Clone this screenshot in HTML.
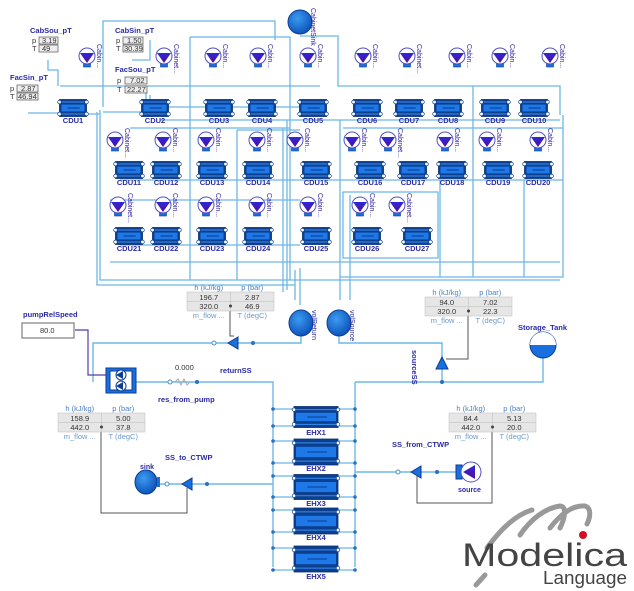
<!DOCTYPE html>
<html><head><meta charset="utf-8"><style>
html,body{margin:0;padding:0;background:#fff;}
svg{display:block;font-family:"Liberation Sans",sans-serif;}
</style></head><body>
<svg id="s" width="634" height="591" viewBox="0 0 634 591" xmlns="http://www.w3.org/2000/svg">
<defs>
<linearGradient id="tri" x1="0" y1="0" x2="0" y2="1"><stop offset="0" stop-color="#2a2ad8"/><stop offset="1" stop-color="#5a0a9a"/></linearGradient>
<radialGradient id="ball" cx="0.4" cy="0.35" r="0.7"><stop offset="0" stop-color="#3c9bf0"/><stop offset="1" stop-color="#0a4fb8"/></radialGradient>
</defs>
<g id="wires" fill="none" stroke="#6cb8e6" stroke-width="1.3">
<!-- top grid wires -->
<path d="M103 107 V21 H275 V40"/>
<path d="M190 37 H290 V280"/>
<path d="M60 86 H320"/>
<path d="M100 110 V280 H560"/>
<path d="M97 112 V285 H295"/>
<path d="M190 37 V280"/>
<path d="M237 130 H300 M237 130 V280"/>
<path d="M287 120 V290"/>
<path d="M283 128 V292"/>
<path d="M300 36 H338 V86 H560 V115"/>
<path d="M563 115 V277 H340"/>
<path d="M473 86 V277"/>
<path d="M524 180 V277"/>
<path d="M440 180 V277"/>
<path d="M343 192 H438 V258 H343 Z"/>
<path d="M343 128 H563"/>
<path d="M340 120 V300"/>
<path d="M295 270 V300 M300 268 V305"/>
<path d="M130 128 H290"/>
<path d="M120 180 H563"/>
<path d="M120 245 H300"/>
<path d="M60 114 H100"/>
<path d="M48 60 V70 H58 V86"/>
<path d="M132 60 H150 V40"/>
<path d="M28 113 H60"/>
<path d="M146 90 V112 H103"/>
<path d="M150 95 V107 H300"/>
<path d="M160 120 H560"/>
<path d="M110 200 H300"/>
<path d="M110 262 H560"/>
<path d="M350 195 V300"/>
</g>
<g id="comp"></g>
<!-- sensors -->
<g font-size="7.5" font-weight="bold" fill="#2a2aa8">
<text x="30" y="33">CabSou_pT</text><text x="115" y="33">CabSin_pT</text>
<text x="10" y="80">FacSin_pT</text><text x="115" y="72">FacSou_pT</text>
</g>
<g font-size="7.5" fill="#333">
<text x="32" y="43">p</text><text x="32" y="51">T</text>
<rect x="39" y="37" width="19" height="7" fill="#eee" stroke="#555" stroke-width=".7"/><text x="42" y="43">3.19</text>
<rect x="39" y="45" width="19" height="7" fill="#eee" stroke="#555" stroke-width=".7"/><text x="42" y="51">49</text>
<text x="116" y="43">p</text><text x="116" y="51">T</text>
<rect x="123" y="37" width="20" height="7" fill="#eee" stroke="#555" stroke-width=".7"/><text x="127" y="43">1.50</text>
<rect x="123" y="45" width="20" height="7" fill="#eee" stroke="#555" stroke-width=".7"/><text x="124" y="51">30.39</text>
<text x="10" y="91">p</text><text x="10" y="99">T</text>
<rect x="17" y="85" width="21" height="7" fill="#eee" stroke="#555" stroke-width=".7"/><text x="21" y="91">2.87</text>
<rect x="17" y="93" width="21" height="7" fill="#eee" stroke="#555" stroke-width=".7"/><text x="18" y="99">46.94</text>
<text x="117" y="83">p</text><text x="117" y="92">T</text>
<rect x="125" y="77" width="22" height="7" fill="#eee" stroke="#555" stroke-width=".7"/><text x="130" y="83">7.02</text>
<rect x="125" y="86" width="22" height="7" fill="#eee" stroke="#555" stroke-width=".7"/><text x="127" y="92">22.27</text>
</g>
<!-- CabinetSink -->
<circle cx="300" cy="22" r="12" fill="url(#ball)" stroke="#083c90"/>
<text transform="translate(311,8) rotate(90)" font-size="7" fill="#3020a0">CabinetSink</text>

<!-- bottom wires -->
<g fill="none" stroke="#6cb8e6" stroke-width="1.4">
<path d="M93 382 V343 H301 V335"/>
<path d="M339 335 V343 H442 V382"/>
<path d="M136 382 H273 V567"/>
<path d="M355 382 V567"/>
<path d="M355 382 H543 V358"/>
<path d="M160 484 H273"/>
<path d="M355 472 H458"/>
</g>
<g fill="none" stroke="#555" stroke-width="1">
<path d="M230 310 V336 H234"/>
<path d="M468 310 V359 H446"/>
<path d="M101 429 V513 H187 V488"/>
<path d="M492 429 V503 H417 V476"/>
</g>
<path d="M75 330 H88 V375 H106" fill="none" stroke="#5a3aa0" stroke-width="1.2"/>
<g id="ehx"></g>
<!-- tables -->
<g id="tables" font-size="7.5"></g>
<!-- volumes -->
<ellipse cx="301" cy="323" rx="12" ry="13" fill="url(#ball)" stroke="#083c90"/>
<ellipse cx="339" cy="323" rx="12" ry="13" fill="url(#ball)" stroke="#083c90"/>
<text transform="translate(312,310) rotate(90)" font-size="7" fill="#2a2aa8">volReturn</text>
<text transform="translate(350,310) rotate(90)" font-size="7" fill="#2a2aa8">volSource</text>
<!-- pumpRelSpeed -->
<text x="23" y="317" font-size="7.5" font-weight="bold" fill="#2a2aa8">pumpRelSpeed</text>
<rect x="22" y="323" width="52" height="15" fill="#fff" stroke="#666"/>
<text x="40" y="333" font-size="7.5" fill="#333">80.0</text>
<!-- pump -->
<rect x="106" y="368" width="30" height="25" fill="#1a6fe0" stroke="#0a3d91"/>
<rect x="110" y="371" width="22" height="19" fill="#fff" stroke="#0a3d91"/>
<circle cx="121" cy="375" r="5" fill="#fff" stroke="#0a3d91"/><circle cx="121" cy="386" r="5" fill="#fff" stroke="#0a3d91"/>
<path d="M116 375 l7 -4 v8z M116 386 l7 -4 v8z" fill="#0a3d91"/>
<!-- res -->
<path d="M175 382 l3 -3 l3 6 l3 -6 l3 6 l3 -3" stroke="#aaa" fill="none"/>
<circle cx="170" cy="382" r="2" fill="#fff" stroke="#4a90d0"/><circle cx="197" cy="382" r="2" fill="#2a70c0"/>
<text x="175" y="370" font-size="7.5" fill="#333">0.000</text>
<text x="220" y="373" font-size="7.5" font-weight="bold" fill="#2a2aa8">returnSS</text>
<text x="158" y="402" font-size="7.5" font-weight="bold" fill="#2a2aa8">res_from_pump</text>
<!-- return valve -->
<circle cx="214" cy="343" r="2" fill="#fff" stroke="#4a90d0"/><circle cx="253" cy="343" r="2" fill="#2a70c0"/>
<path d="M228 343 l10 -6 v12z" fill="#1a6fe0" stroke="#0a3d91"/>
<!-- source valve -->
<path d="M442 357 l-6 12 h12z" fill="#1a6fe0" stroke="#0a3d91"/>
<circle cx="442" cy="382" r="2" fill="#2a70c0"/>
<text transform="translate(412,350) rotate(90)" font-size="7.5" font-weight="bold" fill="#2a2aa8">sourceSS</text>
<!-- storage tank -->
<circle cx="543" cy="345" r="13" fill="#1a6fe0" stroke="#0a3d91"/>
<path d="M530 345 a13 13 0 0 1 26 0z" fill="#fff"/>
<text x="518" y="330" font-size="7.5" font-weight="bold" fill="#2a2aa8">Storage_Tank</text>
<!-- sink -->
<ellipse cx="146" cy="482" rx="11" ry="12" fill="url(#ball)" stroke="#083c90"/>
<rect x="157" y="477" width="3" height="10" fill="#1a6fe0"/>
<text x="140" y="469" font-size="7" font-weight="bold" fill="#2a2aa8">sink</text>
<text x="165" y="460" font-size="7.5" font-weight="bold" fill="#2a2aa8">SS_to_CTWP</text>
<circle cx="167" cy="484" r="2" fill="#fff" stroke="#4a90d0"/><circle cx="207" cy="484" r="2" fill="#2a70c0"/>
<path d="M182 484 l10 -6 v12z" fill="#1a6fe0" stroke="#0a3d91"/>
<!-- source -->
<text x="392" y="447" font-size="7.5" font-weight="bold" fill="#2a2aa8">SS_from_CTWP</text>
<circle cx="398" cy="472" r="2" fill="#fff" stroke="#4a90d0"/><circle cx="437" cy="472" r="2" fill="#2a70c0"/>
<path d="M411 472 l10 -6 v12z" fill="#1a6fe0" stroke="#0a3d91"/>
<rect x="456" y="465" width="6" height="14" fill="#1a6fe0" stroke="#0a3d91"/>
<circle cx="471" cy="472" r="10" fill="#fff" stroke="#5050c0"/>
<path d="M463 472 l12 -7 v14z" fill="url(#tri)"/>
<text x="458" y="492" font-size="7" font-weight="bold" fill="#2a2aa8">source</text>
<!-- Modelica logo -->
<g fill="none" stroke="#999" stroke-width="5" stroke-linecap="round">
<path d="M487 548 C500 530 515 515 532 510"/>
<path d="M520 535 C530 520 545 508 560 506 C567 506 565 518 560 528"/>
<path d="M550 528 C560 515 572 505 585 506 C592 508 590 518 587 524"/>
<path d="M485 575 L476 585"/>
</g>
<circle cx="583" cy="535" r="4" fill="#d01020"/>
<text x="462" y="566" font-size="32" fill="#444" textLength="165" lengthAdjust="spacingAndGlyphs">Modelica</text>
<text x="543" y="584" font-size="18" fill="#444" textLength="84" lengthAdjust="spacingAndGlyphs">Language</text>
</svg>
<script>
var NS="http://www.w3.org/2000/svg";
function el(p,t,a,txt){var e=document.createElementNS(NS,t);for(var k in a)e.setAttribute(k,a[k]);if(txt)e.textContent=txt;p.appendChild(e);return e;}
var C=document.getElementById('comp');
function hx(g,cx,cy,w,h,label,ly){
 var x=cx-w/2,y=cy-h/2;
 el(g,'rect',{x:x,y:y,width:w,height:h,fill:'#0d3f8f',stroke:'#08306e','stroke-width':.8});
 el(g,'rect',{x:x+2,y:y+h*0.3,width:w-4,height:h*0.4,fill:'#1e78e8'});
 el(g,'line',{x1:x+2,y1:y+h*0.15,x2:x+w-2,y2:y+h*0.15,stroke:'#3a8ef0','stroke-width':1});
 el(g,'line',{x1:x+2,y1:y+h*0.85,x2:x+w-2,y2:y+h*0.85,stroke:'#3a8ef0','stroke-width':1});
 el(g,'line',{x1:x+w*0.3,y1:cy,x2:x+w*0.75,y2:cy,stroke:'#0a2a70','stroke-width':.8});
 [[x,y+h*0.15],[x+w,y+h*0.15],[x,y+h*0.85],[x+w,y+h*0.85]].forEach(function(p){el(g,'circle',{cx:p[0],cy:p[1],r:1.8,fill:'#fff',stroke:'#0a3d91','stroke-width':.7});});
 el(g,'text',{x:cx,y:ly,'font-size':7.5,'font-weight':'bold',fill:'#2a2aa8','text-anchor':'middle'},label);
}
function pump(cx,cy,lab){
 el(C,'rect',{x:cx-3.5,y:cy+6,width:7,height:5,fill:'#1a6fe0',stroke:'#0a3d91','stroke-width':.6});
 el(C,'circle',{cx:cx,cy:cy,r:8,fill:'#fff',stroke:'#5050c0','stroke-width':1});
 el(C,'path',{d:'M'+(cx-7)+' '+(cy-3)+' h14 l-7 10z',fill:'url(#tri)'});
 el(C,'text',{transform:'translate('+(cx+10)+','+(cy-12)+') rotate(90)','font-size':7,fill:'#3020a0'},lab);
}
var r1=[[73,'CDU1'],[155,'CDU2'],[219,'CDU3'],[262,'CDU4'],[313,'CDU5'],[367,'CDU6'],[409,'CDU7'],[448,'CDU8'],[495,'CDU9'],[534,'CDU10']];
var r2=[[129,'CDU11'],[166,'CDU12'],[212,'CDU13'],[258,'CDU14'],[316,'CDU15'],[370,'CDU16'],[413,'CDU17'],[452,'CDU18'],[498,'CDU19'],[538,'CDU20']];
var r3=[[129,'CDU21'],[166,'CDU22'],[212,'CDU23'],[258,'CDU24'],[316,'CDU25'],[367,'CDU26'],[417,'CDU27']];
r1.forEach(function(c){hx(C,c[0],108,27,17,c[1],123);});
r2.forEach(function(c){hx(C,c[0],170,27,17,c[1],185);});
r3.forEach(function(c){hx(C,c[0],236,27,17,c[1],251);});
[[87,'Cabin...'],[164,'Cabinet...'],[213,'Cabin...'],[258,'Cabin...'],[308,'Cabin...'],[363,'Cabin...'],[407,'Cabinet...'],[457,'Cabin...'],[500,'Cabin...'],[550,'Cabin...']].forEach(function(p){pump(p[0],56,p[1]);});
[[115,'Cabinet...'],[163,'Cabin...'],[206,'Cabin...'],[257,'Cabin...'],[295,'Cabin...'],[352,'Cabin...'],[388,'Cabinet...'],[445,'Cabin...'],[487,'Cabin...'],[538,'Cabin...']].forEach(function(p){pump(p[0],140,p[1]);});
[[118,'Cabinet...'],[163,'Cabin...'],[206,'Cabin...'],[257,'Cabin...'],[308,'Cabin...'],[360,'Cabin...'],[397,'Cabinet...']].forEach(function(p){pump(p[0],205,p[1]);});
// EHX
var E=document.getElementById('ehx');
[[417,409,426,435,'EHX1'],[452,441,463,471,'EHX2'],[487,476,497,506,'EHX3'],[521,510,532,540,'EHX4'],[559,548,570,579,'EHX5']].forEach(function(e){
 el(E,'path',{d:'M273 '+e[1]+' H294 M338 '+e[1]+' H355 M273 '+e[2]+' H294 M338 '+e[2]+' H355',stroke:'#6cb8e6','stroke-width':1.3,fill:'none'});
 [273,355].forEach(function(x){[e[1],e[2]].forEach(function(y){el(E,'circle',{cx:x,cy:y,r:1.8,fill:'#2a70c0'});});});
 hx(E,316,e[0],44,e[2]-e[1]+4,e[4],e[3]);
});
// tables
var T=document.getElementById('tables');
function tab(x,y,a,b,c,d){
 var w=87;
 el(T,'text',{x:x+w*0.25,y:y,fill:'#4a80c0','text-anchor':'middle'},'h (kJ/kg)');
 el(T,'text',{x:x+w*0.75,y:y,fill:'#4a80c0','text-anchor':'middle'},'p (bar)');
 el(T,'rect',{x:x,y:y+2,width:w,height:19,fill:'#e6e6e6',stroke:'#bbb','stroke-width':.5});
 el(T,'line',{x1:x,y1:y+11.5,x2:x+w,y2:y+11.5,stroke:'#bbb','stroke-width':.5});
 el(T,'line',{x1:x+w/2,y1:y+2,x2:x+w/2,y2:y+21,stroke:'#bbb','stroke-width':.5});
 el(T,'text',{x:x+w*0.25,y:y+10,fill:'#333','text-anchor':'middle'},a);
 el(T,'text',{x:x+w*0.75,y:y+10,fill:'#333','text-anchor':'middle'},b);
 el(T,'text',{x:x+w*0.25,y:y+19,fill:'#333','text-anchor':'middle'},c);
 el(T,'text',{x:x+w*0.75,y:y+19,fill:'#333','text-anchor':'middle'},d);
 el(T,'text',{x:x+w*0.25,y:y+28,fill:'#6a9ad0','text-anchor':'middle'},'m_flow ...');
 el(T,'text',{x:x+w*0.75,y:y+28,fill:'#6a9ad0','text-anchor':'middle'},'T (degC)');
 el(T,'circle',{cx:x+w/2,cy:y+16,r:1.5,fill:'#444'});
}
tab(187,290,'196.7','2.87','320.0','46.9');
tab(425,295,'94.0','7.02','320.0','22.3');
tab(58,411,'158.9','5.00','442.0','37.8');
tab(449,411,'84.4','5.13','442.0','20.0');
</script>
</body></html>
